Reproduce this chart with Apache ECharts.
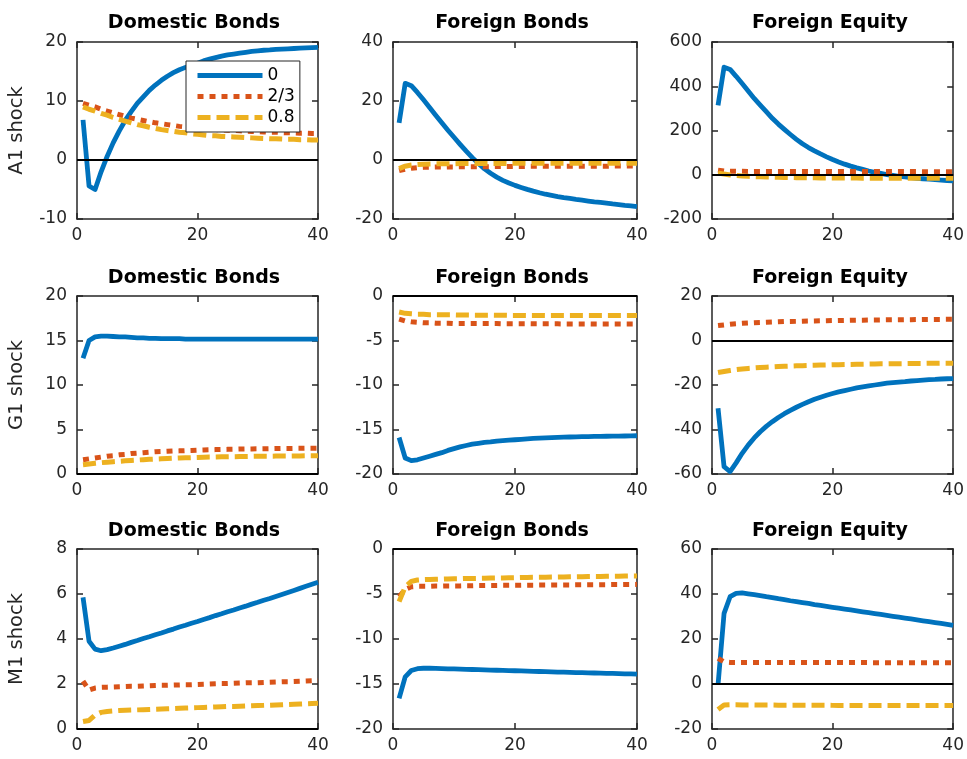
<!DOCTYPE html>
<html>
<head>
<meta charset="utf-8">
<title>Impulse responses</title>
<script src="https://cdn.jsdelivr.net/npm/echarts@6/dist/echarts.min.js"></script>
<style>
  html, body { margin: 0; padding: 0; background: #ffffff; }
  #chart { width: 967px; height: 759px; }
</style>
</head>
<body>
<div id="chart"></div>
<script>
// Horizon (periods after the shock)
const periods = [1, 2, 3, 4, 5, 6, 7, 8, 9, 10, 11, 12, 13, 14, 15, 16, 17, 18, 19, 20,
                 21, 22, 23, 24, 25, 26, 27, 28, 29, 30, 31, 32, 33, 34, 35, 36, 37, 38, 39, 40];

// Legend labels (parameter value of each scenario)
const scenarioNames = ['0', '2/3', '0.8'];
const shockNames = ['A1 shock', 'G1 shock', 'M1 shock'];
const assetNames = ['Domestic Bonds', 'Foreign Bonds', 'Foreign Equity'];

// ---- A1 shock ----
const a1Dom0  = [6.8, -4.4, -5.0, -2.0, 0.6, 2.9, 4.9, 6.7, 8.2, 9.6, 10.7, 11.8, 12.7, 13.5, 14.2, 14.8, 15.3, 15.7, 16.1, 16.4,
                 16.8, 17.1, 17.35, 17.6, 17.8, 17.95, 18.1, 18.25, 18.4, 18.5, 18.6, 18.65, 18.75, 18.8, 18.85, 18.9, 18.95, 19.0, 19.05, 19.1];
const a1Dom23 = [9.6, 9.3, 9.0, 8.6, 8.3, 8.0, 7.7, 7.4, 7.1, 6.9, 6.7, 6.5, 6.3, 6.15, 6.0, 5.85, 5.7, 5.6, 5.5, 5.4,
                 5.3, 5.2, 5.15, 5.1, 5.05, 5.0, 4.95, 4.9, 4.85, 4.8, 4.75, 4.7, 4.7, 4.65, 4.6, 4.6, 4.55, 4.55, 4.5, 4.5];
const a1Dom08 = [9.0, 8.6, 8.3, 7.9, 7.6, 7.2, 6.9, 6.6, 6.3, 6.0, 5.8, 5.55, 5.35, 5.15, 5.0, 4.85, 4.7, 4.6, 4.45, 4.35,
                 4.25, 4.15, 4.1, 4.0, 3.95, 3.9, 3.85, 3.8, 3.75, 3.7, 3.65, 3.6, 3.6, 3.55, 3.5, 3.5, 3.45, 3.45, 3.4, 3.4];

const a1For0  = [12.6, 26.0, 25.2, 22.9, 20.4, 17.8, 15.2, 12.6, 10.1, 7.7, 5.3, 3.0, 0.8, -1.2, -3.0, -4.5, -5.8, -6.9, -7.8, -8.6,
                 -9.3, -9.95, -10.55, -11.1, -11.6, -12.0, -12.4, -12.75, -13.05, -13.35, -13.6, -13.9, -14.2, -14.4, -14.65, -14.9, -15.1, -15.35, -15.55, -15.8];
const a1For23 = [-3.6, -3.1, -2.8, -2.6, -2.5, -2.45, -2.4, -2.4, -2.35, -2.35, -2.3, -2.3, -2.3, -2.25, -2.25, -2.25, -2.2, -2.2, -2.2, -2.2,
                 -2.2, -2.15, -2.15, -2.15, -2.15, -2.15, -2.1, -2.1, -2.1, -2.1, -2.1, -2.1, -2.1, -2.1, -2.1, -2.05, -2.05, -2.05, -2.05, -2.05];
const a1For08 = [-2.9, -2.1, -1.7, -1.5, -1.4, -1.35, -1.3, -1.3, -1.25, -1.25, -1.2, -1.2, -1.2, -1.2, -1.15, -1.15, -1.15, -1.15, -1.15, -1.1,
                 -1.1, -1.1, -1.1, -1.1, -1.1, -1.1, -1.1, -1.1, -1.1, -1.1, -1.1, -1.1, -1.1, -1.1, -1.1, -1.1, -1.1, -1.1, -1.1, -1.1];

const a1Eq0  = [314, 486, 476, 445, 412, 378, 345, 315, 285, 255, 229, 205, 182, 160, 140, 123, 108, 94, 81, 69,
                58, 48, 39, 31, 24, 17, 11, 6, 1, -3, -7, -10, -13, -16, -18, -20, -22, -24, -26, -28];
const a1Eq23 = [21, 17, 16, 15.5, 15.5, 15, 15, 15, 15, 15, 15, 15, 15, 15, 15, 14.8, 14.8, 14.8, 14.8, 14.6,
                14.6, 14.6, 14.5, 14.5, 14.5, 14.4, 14.4, 14.4, 14.3, 14.3, 14.3, 14.2, 14.2, 14.2, 14.1, 14.1, 14.1, 14.0, 14.0, 14.0];
const a1Eq08 = [8, 3, -1, -3.5, -5.5, -7, -8.5, -9.5, -10.5, -11, -11.5, -12, -12.5, -13, -13.5, -13.8, -14, -14.3, -14.5, -14.7,
                -14.9, -15, -15.1, -15.2, -15.3, -15.4, -15.5, -15.5, -15.6, -15.6, -15.7, -15.7, -15.8, -15.8, -15.8, -15.9, -15.9, -15.9, -16, -16];

// ---- G1 shock ----
const g1Dom0  = [13.0, 15.0, 15.4, 15.5, 15.5, 15.45, 15.4, 15.4, 15.35, 15.3, 15.3, 15.25, 15.25, 15.2, 15.2, 15.2, 15.2, 15.15, 15.15, 15.15,
                 15.15, 15.15, 15.15, 15.15, 15.15, 15.15, 15.15, 15.15, 15.15, 15.15, 15.15, 15.15, 15.15, 15.15, 15.15, 15.15, 15.15, 15.15, 15.15, 15.15];
const g1Dom23 = [1.6, 1.7, 1.8, 1.9, 2.0, 2.05, 2.15, 2.2, 2.3, 2.35, 2.4, 2.45, 2.5, 2.52, 2.55, 2.58, 2.6, 2.63, 2.65, 2.68,
                 2.7, 2.72, 2.74, 2.75, 2.77, 2.78, 2.8, 2.81, 2.82, 2.83, 2.84, 2.85, 2.86, 2.87, 2.87, 2.88, 2.88, 2.89, 2.89, 2.9];
const g1Dom08 = [1.05, 1.12, 1.2, 1.27, 1.33, 1.38, 1.43, 1.48, 1.53, 1.57, 1.61, 1.65, 1.68, 1.71, 1.74, 1.77, 1.8, 1.82, 1.84, 1.86,
                 1.88, 1.9, 1.91, 1.93, 1.94, 1.95, 1.96, 1.97, 1.98, 1.99, 2.0, 2.0, 2.01, 2.02, 2.02, 2.03, 2.03, 2.04, 2.04, 2.05];

const g1For0  = [-15.9, -18.2, -18.5, -18.4, -18.2, -18.0, -17.8, -17.6, -17.35, -17.15, -16.95, -16.8, -16.65, -16.55, -16.45, -16.4, -16.3, -16.25, -16.2, -16.15,
                 -16.1, -16.05, -16.0, -15.97, -15.94, -15.91, -15.88, -15.86, -15.84, -15.82, -15.8, -15.79, -15.78, -15.77, -15.76, -15.75, -15.74, -15.73, -15.72, -15.7];
const g1For23 = [-2.6, -2.8, -2.9, -2.95, -3.0, -3.0, -3.05, -3.05, -3.05, -3.1, -3.1, -3.1, -3.1, -3.1, -3.1, -3.1, -3.1, -3.12, -3.12, -3.12,
                 -3.12, -3.12, -3.13, -3.13, -3.13, -3.13, -3.13, -3.14, -3.14, -3.14, -3.14, -3.14, -3.15, -3.15, -3.15, -3.15, -3.15, -3.15, -3.15, -3.15];
const g1For08 = [-1.8, -1.95, -2.0, -2.05, -2.05, -2.1, -2.1, -2.1, -2.12, -2.12, -2.14, -2.14, -2.15, -2.15, -2.16, -2.16, -2.17, -2.17, -2.18, -2.18,
                 -2.18, -2.19, -2.19, -2.19, -2.2, -2.2, -2.2, -2.2, -2.2, -2.2, -2.2, -2.2, -2.2, -2.2, -2.2, -2.2, -2.2, -2.2, -2.2, -2.2];

const g1Eq0  = [-30.5, -56.7, -58.9, -55.0, -50.7, -47.0, -43.8, -41.0, -38.6, -36.5, -34.6, -32.9, -31.4, -30.0, -28.7, -27.5, -26.4, -25.5, -24.6, -23.8,
                -23.1, -22.5, -21.9, -21.3, -20.8, -20.4, -20.0, -19.6, -19.2, -18.9, -18.7, -18.5, -18.2, -18.0, -17.8, -17.6, -17.5, -17.3, -17.2, -17.1];
const g1Eq23 = [6.7, 7.0, 7.3, 7.5, 7.7, 7.85, 8.0, 8.1, 8.2, 8.3, 8.4, 8.5, 8.55, 8.6, 8.7, 8.75, 8.8, 8.85, 8.9, 8.95,
                9.0, 9.05, 9.1, 9.12, 9.15, 9.2, 9.22, 9.25, 9.28, 9.3, 9.32, 9.35, 9.37, 9.4, 9.42, 9.44, 9.46, 9.48, 9.5, 9.5];
const g1Eq08 = [-14.4, -13.9, -13.5, -13.1, -12.8, -12.55, -12.35, -12.15, -12.0, -11.85, -11.7, -11.6, -11.5, -11.4, -11.3, -11.2, -11.15, -11.05, -11.0, -10.9,
                -10.85, -10.8, -10.75, -10.7, -10.65, -10.6, -10.55, -10.5, -10.5, -10.45, -10.4, -10.4, -10.35, -10.3, -10.3, -10.25, -10.25, -10.2, -10.2, -10.2];

// ---- M1 shock ----
const m1Dom0  = [5.85, 3.9, 3.55, 3.48, 3.53, 3.6, 3.68, 3.76, 3.85, 3.93, 4.02, 4.1, 4.19, 4.27, 4.36, 4.44, 4.53, 4.61, 4.7, 4.78,
                 4.87, 4.95, 5.04, 5.12, 5.21, 5.29, 5.38, 5.46, 5.55, 5.63, 5.72, 5.8, 5.89, 5.98, 6.07, 6.16, 6.25, 6.34, 6.43, 6.52];
const m1Dom23 = [2.13, 1.73, 1.82, 1.85, 1.86, 1.87, 1.88, 1.89, 1.9, 1.9, 1.91, 1.92, 1.93, 1.94, 1.94, 1.95, 1.96, 1.97, 1.97, 1.98,
                 1.99, 2.0, 2.01, 2.02, 2.02, 2.03, 2.04, 2.05, 2.06, 2.06, 2.07, 2.08, 2.09, 2.1, 2.1, 2.11, 2.12, 2.13, 2.14, 2.15];
const m1Dom08 = [0.33, 0.38, 0.62, 0.74, 0.78, 0.8, 0.82, 0.83, 0.84, 0.85, 0.86, 0.87, 0.88, 0.89, 0.9, 0.91, 0.92, 0.93, 0.94, 0.95,
                 0.96, 0.97, 0.98, 0.99, 1.0, 1.0, 1.01, 1.02, 1.03, 1.04, 1.05, 1.06, 1.07, 1.08, 1.09, 1.1, 1.11, 1.12, 1.13, 1.14];

const m1For0  = [-16.6, -14.2, -13.5, -13.3, -13.25, -13.25, -13.27, -13.29, -13.31, -13.33, -13.35, -13.37, -13.39, -13.41, -13.43, -13.45, -13.47, -13.49, -13.51, -13.53,
                 -13.55, -13.57, -13.59, -13.61, -13.63, -13.65, -13.67, -13.69, -13.71, -13.73, -13.74, -13.76, -13.78, -13.8, -13.82, -13.83, -13.85, -13.87, -13.88, -13.9];
const m1For23 = [-5.3, -4.5, -4.2, -4.15, -4.15, -4.15, -4.12, -4.12, -4.1, -4.1, -4.1, -4.08, -4.08, -4.06, -4.06, -4.05, -4.05, -4.04, -4.04, -4.03,
                 -4.03, -4.02, -4.02, -4.01, -4.01, -4.0, -4.0, -3.99, -3.99, -3.98, -3.98, -3.97, -3.97, -3.96, -3.96, -3.95, -3.95, -3.94, -3.94, -3.93];
const m1For08 = [-5.85, -4.2, -3.6, -3.45, -3.4, -3.38, -3.36, -3.34, -3.32, -3.31, -3.3, -3.28, -3.27, -3.26, -3.25, -3.23, -3.22, -3.21, -3.2, -3.19,
                 -3.17, -3.16, -3.15, -3.14, -3.13, -3.12, -3.11, -3.1, -3.09, -3.08, -3.07, -3.06, -3.05, -3.05, -3.04, -3.03, -3.02, -3.01, -3.0, -3.0];

const m1Eq0  = [-0.4, 31.4, 38.8, 40.3, 40.5, 40.1, 39.7, 39.3, 38.8, 38.4, 37.9, 37.5, 37.0, 36.6, 36.2, 35.8, 35.3, 34.9, 34.5, 34.1,
                33.7, 33.3, 32.9, 32.5, 32.1, 31.7, 31.3, 30.9, 30.5, 30.1, 29.7, 29.3, 28.9, 28.5, 28.1, 27.7, 27.3, 26.9, 26.5, 26.1];
const m1Eq23 = [11.4, 9.8, 9.6, 9.6, 9.6, 9.6, 9.6, 9.6, 9.6, 9.6, 9.6, 9.6, 9.6, 9.6, 9.6, 9.55, 9.55, 9.55, 9.55, 9.55,
                9.55, 9.55, 9.55, 9.55, 9.55, 9.5, 9.5, 9.5, 9.5, 9.5, 9.5, 9.5, 9.5, 9.5, 9.5, 9.5, 9.5, 9.5, 9.5, 9.5];
const m1Eq08 = [-11.3, -9.3, -9.2, -9.2, -9.3, -9.3, -9.3, -9.35, -9.35, -9.35, -9.4, -9.4, -9.4, -9.4, -9.45, -9.45, -9.45, -9.45, -9.45, -9.5,
                -9.5, -9.5, -9.5, -9.5, -9.5, -9.5, -9.55, -9.55, -9.55, -9.55, -9.55, -9.55, -9.55, -9.6, -9.6, -9.6, -9.6, -9.6, -9.6, -9.6];

// Y axis ranges and tick steps for each panel (row by row)
const yMins  = [-10, -20, -200,   0, -20, -60,   0, -20, -20];
const yMaxs  = [ 20,  40,  600,  20,   0,  20,   8,   0,  60];
const ySteps = [ 10,  20,  200,   5,   5,  20,   2,   5,  20];

const panelLines = [
  [a1Dom0, a1Dom23, a1Dom08], [a1For0, a1For23, a1For08], [a1Eq0, a1Eq23, a1Eq08],
  [g1Dom0, g1Dom23, g1Dom08], [g1For0, g1For23, g1For08], [g1Eq0, g1Eq23, g1Eq08],
  [m1Dom0, m1Dom23, m1Dom08], [m1For0, m1For23, m1For08], [m1Eq0, m1Eq23, m1Eq08]
];

// Page layout (pixels)
const colLeft   = [77, 393, 712];
const colWidth  = [241, 244, 243];
const rowTop    = [42, 296, 549];
const rowHeight = [177, 178, 180];
const titleX    = [194, 512, 830];
const titleY    = [23, 278, 531];

const FONT = 'DejaVu Sans';
const AXIS_COLOR = '#262626';
const lineColors = ['#0072BD', '#D95319', '#EDB120'];
const lineWidths = [4.8, 5, 5];
const lineDashes = ['solid', [6, 6], [13, 6]];

const grid = [], xAxis = [], yAxis = [], series = [], title = [];

panelLines.forEach((lines, i) => {
  const r = Math.floor(i / 3), c = i % 3;
  grid.push({ left: colLeft[c], top: rowTop[r], width: colWidth[c], height: rowHeight[r] });

  title.push({
    text: assetNames[c], left: titleX[c], top: titleY[r], padding: 0,
    textAlign: 'center', textVerticalAlign: 'middle',
    textStyle: { fontFamily: FONT, fontSize: 19, fontWeight: 'bold', color: '#000' }
  });

  const axisLine = { show: true, onZero: false, lineStyle: { color: AXIS_COLOR, width: 1.5 } };
  const axisTick = { show: true, inside: true, length: 6, lineStyle: { color: AXIS_COLOR, width: 1.5 } };
  const labelStyle = { color: AXIS_COLOR, fontFamily: FONT, fontSize: 17 };

  // bottom and top x axes (the top one only closes the box with ticks)
  xAxis.push({ type: 'value', gridIndex: i, min: 0, max: 40, interval: 20, position: 'bottom',
    axisLine, axisTick, splitLine: { show: false },
    axisLabel: Object.assign({ margin: 8 }, labelStyle) });
  xAxis.push({ type: 'value', gridIndex: i, min: 0, max: 40, interval: 20, position: 'top',
    axisLine, axisTick, splitLine: { show: false }, axisLabel: { show: false } });

  // left and right y axes
  yAxis.push({ type: 'value', gridIndex: i, min: yMins[i], max: yMaxs[i], interval: ySteps[i], position: 'left',
    axisLine, axisTick, splitLine: { show: false },
    axisLabel: Object.assign({ margin: 10 }, labelStyle),
    name: c === 0 ? shockNames[r] : '', nameLocation: 'middle', nameGap: 50,
    nameTextStyle: { fontFamily: FONT, fontSize: 19.5, color: AXIS_COLOR } });
  yAxis.push({ type: 'value', gridIndex: i, min: yMins[i], max: yMaxs[i], interval: ySteps[i], position: 'right',
    axisLine, axisTick, splitLine: { show: false }, axisLabel: { show: false } });

  lines.forEach((vals, k) => {
    const s = {
      type: 'line', name: scenarioNames[k],
      xAxisIndex: 2 * i, yAxisIndex: 2 * i,
      data: periods.map((t, j) => [t, vals[j]]),
      symbol: 'none', smooth: false,
      lineStyle: { color: lineColors[k], width: lineWidths[k], type: lineDashes[k], cap: 'butt', join: 'round' },
      itemStyle: { color: lineColors[k] },
      z: 2 + k
    };
    if (k === 2) {
      // horizontal reference line at zero
      s.markLine = {
        silent: true, symbol: 'none', label: { show: false },
        lineStyle: { color: '#000', width: 2, type: 'solid' },
        data: [{ yAxis: 0 }]
      };
    }
    series.push(s);
  });
});

const chart = echarts.init(document.getElementById('chart'), null, { renderer: 'canvas' });
chart.setOption({
  animation: false,
  backgroundColor: '#ffffff',
  title,
  grid, xAxis, yAxis, series,
  legend: {
    data: scenarioNames,
    orient: 'vertical',
    left: 186, top: 61,
    itemWidth: 65, itemHeight: 14, itemGap: 4,
    padding: [6, 5, 6, 9],
    backgroundColor: '#ffffff',
    borderColor: '#262626', borderWidth: 1, borderRadius: 0,
    selectedMode: false,
    itemStyle: { opacity: 0, borderWidth: 0 },
    lineStyle: { width: 5 },
    textStyle: { fontFamily: FONT, fontSize: 17, color: '#000', lineHeight: 17 },
    z: 10
  }
});
</script>
</body>
</html>
